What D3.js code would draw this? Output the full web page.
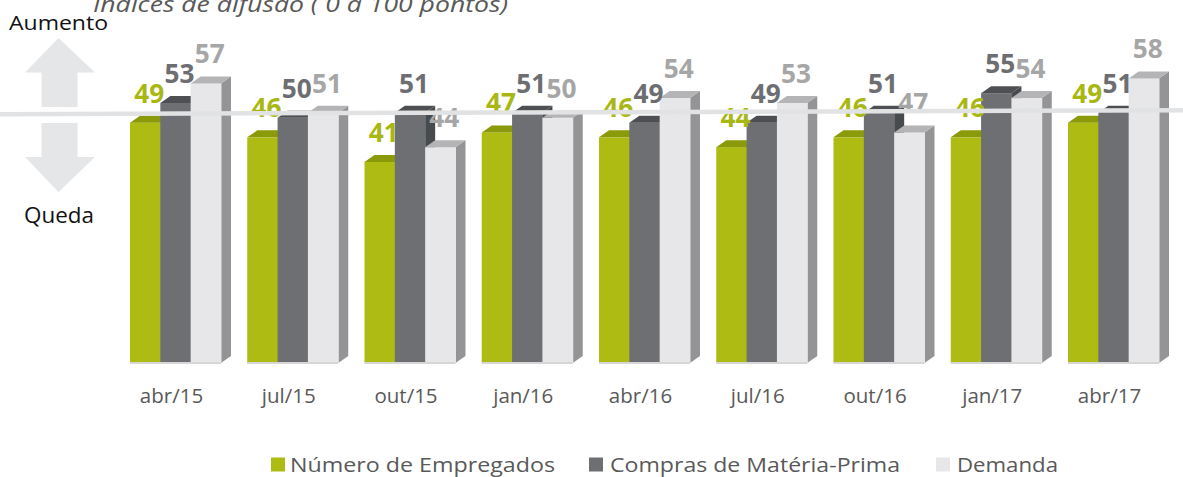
<!DOCTYPE html>
<html>
<head>
<meta charset="utf-8">
<script src="https://cdn.jsdelivr.net/npm/d3@7"></script>
<style>
  html, body { margin: 0; padding: 0; background: #fff; }
  svg { display: block; font-family: "Open Sans", "DejaVu Sans", sans-serif; }
</style>
</head>
<body>
<svg id="chart" width="1183" height="477"></svg>
<script>
// ---- Data ----
const categories = ["abr/15", "jul/15", "out/15", "jan/16", "abr/16", "jul/16", "out/16", "jan/17", "abr/17"];
const seriesNames = ["Número de Empregados", "Compras de Matéria-Prima", "Demanda"];
const empregados = [49, 46, 41, 47, 46, 44, 46, 46, 49];
const compras    = [53, 50, 51, 51, 49, 49, 51, 55, 51];
const demanda    = [57, 51, 44, 50, 54, 53, 47, 54, 58];
const titleText = "Índices de difusão ( 0 a 100 pontos)";
const neutralValue = 50;

const seriesValues = [empregados, compras, demanda];

// ---- Styles ----
const frontColors = ["#adbb12", "#6d6f72", "#e7e7e9"];
const topColors   = ["#8b9a08", "#4d4f52", "#b4b4b6"];
const sideColors  = ["#8b9a08", "#484b4e", "#949496"];
const labelColors = ["#a9b714", "#6d6e71", "#a6a6a6"];

const svg = d3.select("#chart");
const W = 1183, H = 477;
const baseY = 363;
const depthX = 10, depthY = -7;

const x0 = d3.scaleBand().domain(categories).range([130, 1159]).paddingInner(0.224).paddingOuter(0);
const x1 = d3.scaleBand().domain(d3.range(seriesNames.length)).range([0, x0.bandwidth()]);
const y = d3.scaleLinear().domain([0, 74]).range([baseY, 0]);

// ---- Arrows (Aumento / Queda) ----
const arrowColor = "#e5e6e8";
svg.append("path")
  .attr("d", "M58.5,38 L95,72.5 L77.5,72.5 L77.5,107 L41.5,107 L41.5,72.5 L25,72.5 Z")
  .attr("fill", arrowColor);
svg.append("path")
  .attr("d", "M41.5,123 L77.5,123 L77.5,157 L95,157 L58.5,192 L25,157 L41.5,157 Z")
  .attr("fill", arrowColor);

svg.append("text").attr("x", 9).attr("y", 29.5)
  .attr("font-size", 20).attr("fill", "#111")
  .attr("textLength", 99).attr("lengthAdjust", "spacingAndGlyphs")
  .text("Aumento");
svg.append("text").attr("x", 24).attr("y", 223)
  .attr("font-size", 21).attr("fill", "#111")
  .attr("textLength", 70).attr("lengthAdjust", "spacingAndGlyphs")
  .text("Queda");

// ---- Title ----
svg.append("text").attr("x", 93).attr("y", 12)
  .attr("font-size", 22).attr("font-style", "italic").attr("fill", "#595959")
  .attr("textLength", 415).attr("lengthAdjust", "spacingAndGlyphs")
  .text(titleText);

// ---- Bars (pseudo 3D) ----
const bars = svg.append("g");
categories.forEach((cat, i) => {
  const g = bars.append("g");
  seriesValues.forEach((vals, j) => {
    const v = vals[i];
    const bx = x0(cat) + x1(j);
    const bw = x1.bandwidth();
    const ty = y(v);
    g.append("path")
      .attr("d", `M${bx + bw},${ty} L${bx + bw + depthX},${ty + depthY} L${bx + bw + depthX},${baseY + depthY} L${bx + bw},${baseY} Z`)
      .attr("fill", sideColors[j]);
    g.append("rect")
      .attr("x", bx).attr("y", ty)
      .attr("width", bw + 0.5).attr("height", baseY - ty)
      .attr("fill", frontColors[j]);
    g.append("path")
      .attr("d", `M${bx},${ty} L${bx + depthX},${ty + depthY} L${bx + bw + depthX},${ty + depthY} L${bx + bw},${ty} Z`)
      .attr("fill", topColors[j]);
  });
  g.append("rect")
    .attr("x", x0(cat)).attr("y", baseY - 1)
    .attr("width", x0.bandwidth()).attr("height", 2)
    .attr("fill", "#d6d6d6");
});

// ---- Value labels ----
const labels = svg.append("g");
categories.forEach((cat, i) => {
  seriesValues.forEach((vals, j) => {
    const v = vals[i];
    const bx = x0(cat) + x1(j);
    labels.append("text")
      .attr("x", bx + x1.bandwidth() / 2 + 4)
      .attr("y", y(v) - 20)
      .attr("text-anchor", "middle")
      .attr("font-size", 26).attr("font-weight", "bold")
      .attr("fill", labelColors[j])
      .attr("textLength", 30).attr("lengthAdjust", "spacingAndGlyphs")
      .text(v);
  });
});

// ---- X axis ----
const xAxis = d3.axisBottom(x0).tickSize(0).tickPadding(25.8);
const axG = svg.append("g")
  .attr("transform", `translate(-4,${baseY})`)
  .call(xAxis);
axG.select(".domain").remove();
axG.selectAll("text")
  .attr("font-family", "\"Open Sans\", sans-serif")
  .attr("font-size", 20.5)
  .attr("fill", "#595959");

// ---- Neutral (50) reference line, on top ----
svg.append("line")
  .attr("x1", 0).attr("x2", W)
  .attr("y1", y(neutralValue) - 3.5).attr("y2", y(neutralValue) - 7.5)
  .attr("stroke", "#e1e2e4").attr("stroke-width", 4.5);

// ---- Legend ----
const legendItems = [
  { sq: 271, tx: 290, len: 265 },
  { sq: 589, tx: 610, len: 290 },
  { sq: 936, tx: 957, len: 101 }
];
const legend = svg.append("g");
seriesNames.forEach((name, j) => {
  const it = legendItems[j];
  legend.append("rect")
    .attr("x", it.sq).attr("y", 457.5)
    .attr("width", 14).attr("height", 14)
    .attr("fill", frontColors[j]);
  legend.append("text")
    .attr("x", it.tx).attr("y", 471.5)
    .attr("font-size", 20).attr("fill", "#595959")
    .attr("textLength", it.len).attr("lengthAdjust", "spacingAndGlyphs")
    .text(name);
});
</script>
</body>
</html>
